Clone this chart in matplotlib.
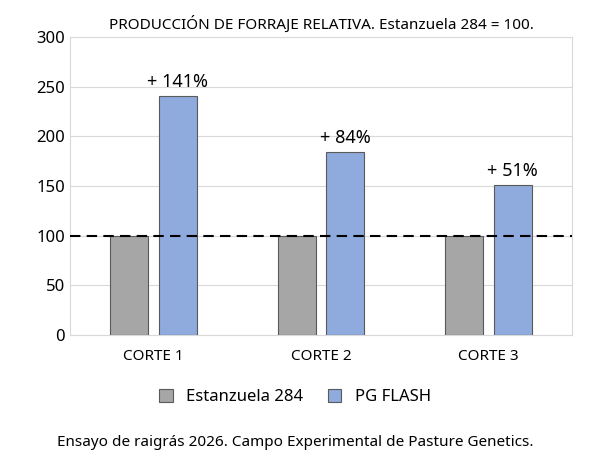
import matplotlib
matplotlib.use("Agg")
import matplotlib.pyplot as plt
import numpy as np

plt.rcParams['font.family'] = ['Noto Sans', 'DejaVu Sans']

categories = ["CORTE 1", "CORTE 2", "CORTE 3"]
estanzuela = [100, 100, 100]
pgflash = [241, 184, 151]
labels = ["+ 141%", "+ 84%", "+ 51%"]

fig = plt.figure(figsize=(5.90, 4.55), dpi=100)
ax = fig.add_axes([70/590, 1-335/455, 502/590, 298/455])
x = np.arange(3)
w = 0.227
off = 0.145
ax.bar(x - off, estanzuela, w, color="#a6a6a6", edgecolor="#5a5a5a", linewidth=0.8, label="Estanzuela 284", zorder=3)
ax.bar(x + off, pgflash, w, color="#8faadc", edgecolor="#5a5a5a", linewidth=0.8, label="PG FLASH", zorder=3)
for i, (v, t) in enumerate(zip(pgflash, labels)):
    ax.text(x[i] + off, v + 5, t, ha="center", va="bottom", fontsize=13)
ax.axhline(100, color="black", linestyle=(0, (5, 3)), linewidth=1.5, zorder=4)
ax.set_xlim(-0.5, 2.5)
ax.set_ylim(0, 300)
ax.set_yticks(range(0, 301, 50))
ax.set_xticks(x)
ax.set_xticklabels(categories, fontsize=11)
ax.tick_params(axis='y', labelsize=12, length=0)
ax.tick_params(axis='x', length=0, pad=10)
ax.grid(axis='y', color="#d9d9d9", linewidth=0.8, zorder=0)
for s in ax.spines.values():
    s.set_color("#d9d9d9")
ax.set_title("PRODUCCIÓN DE FORRAJE RELATIVA. Estanzuela 284 = 100.", fontsize=11, pad=6)
fig.legend(loc="center", bbox_to_anchor=(0.5, 1-397/455), ncol=2, frameon=False, fontsize=12,
           handlelength=0.8, handleheight=0.8, columnspacing=1.5)
fig.text(0.5, 1-442/455, "Ensayo de raigrás 2026. Campo Experimental de Pasture Genetics.", ha="center", va="center", fontsize=11)
fig.savefig("out.png")
